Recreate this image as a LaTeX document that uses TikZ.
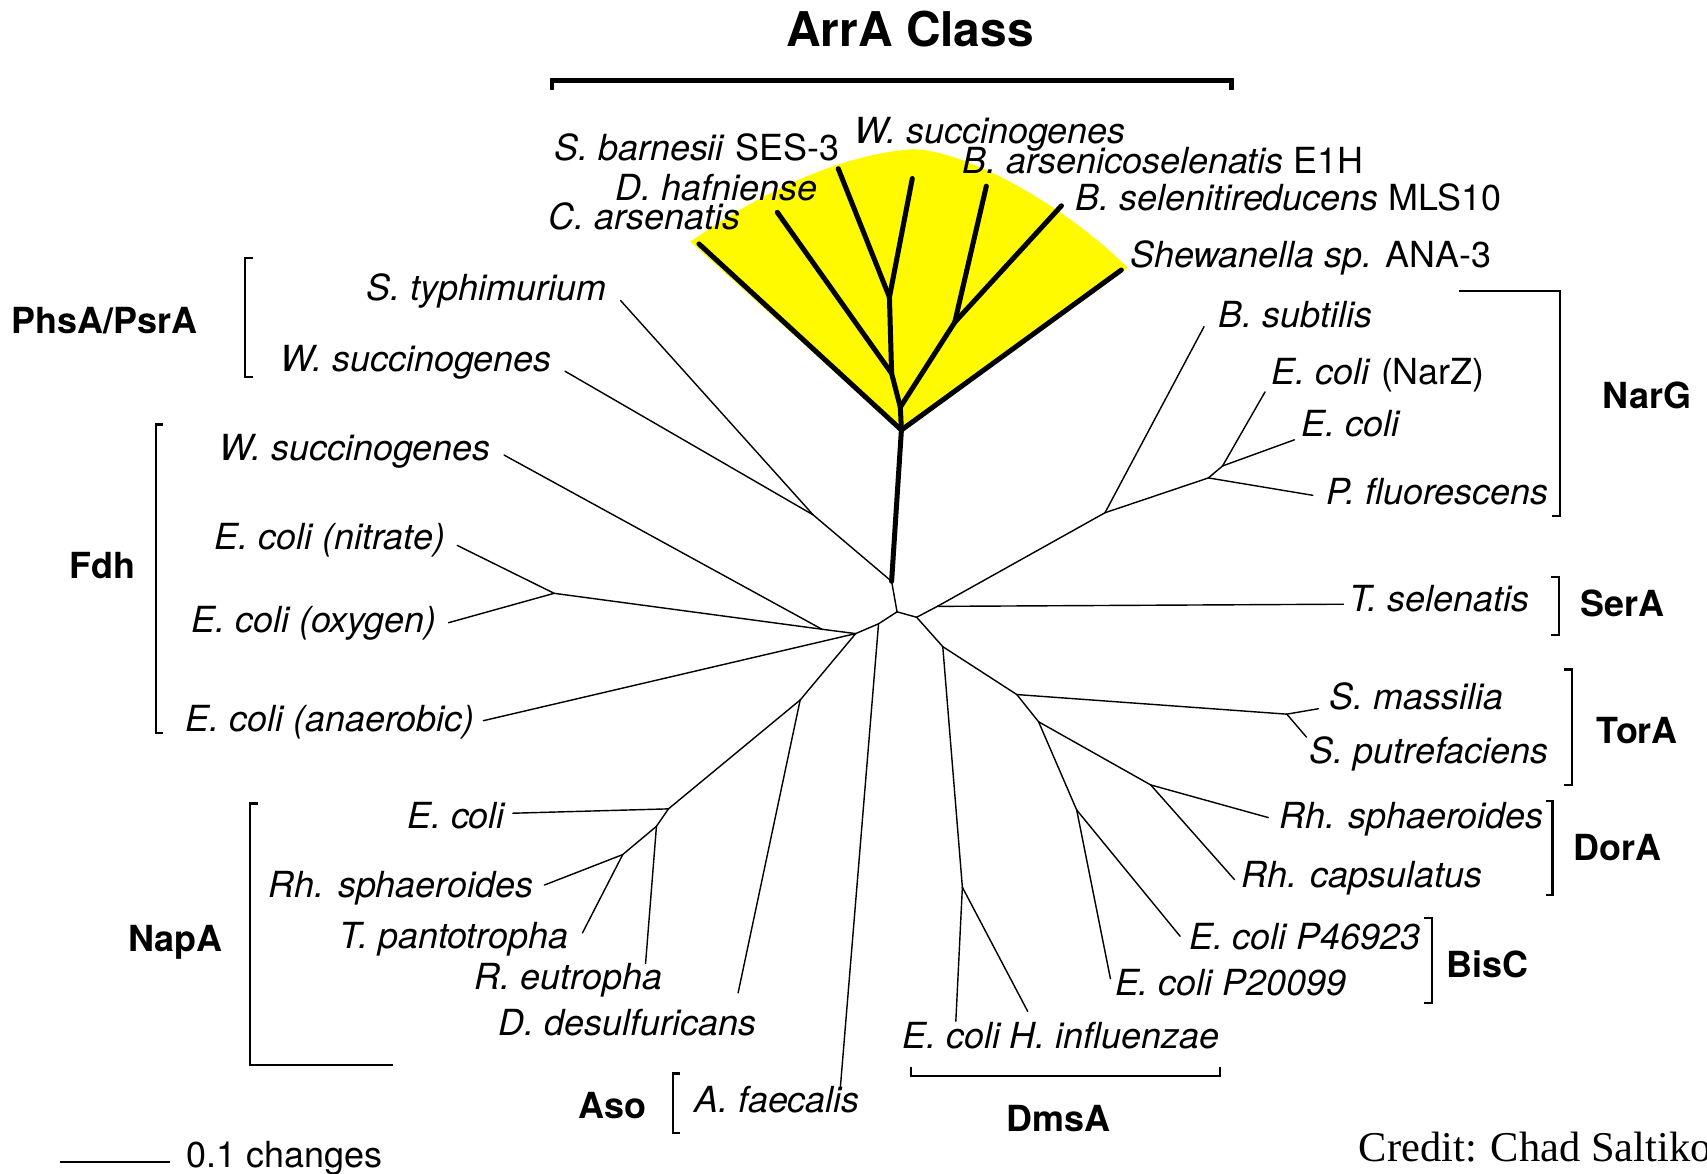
\documentclass[tikz,border=0pt]{standalone}
\usepackage{fontspec}
\setmainfont{TeX Gyre Heros}
\newfontfamily\creditfont{Liberation Serif}
\usetikzlibrary{positioning}
\definecolor{arryellow}{RGB}{255,250,0}
\tikzset{
 branch/.style={line width=1.3pt,line cap=round,line join=round},
 arrbranch/.style={line width=4.6pt,line cap=round,line join=round},
 groupbar/.style={line width=2pt},
 leaf/.style={inner sep=0pt,font=\fontsize{33}{36}\selectfont\itshape},
 family/.style={inner sep=0pt,anchor=base,font=\fontsize{33}{36}\selectfont\bfseries},
}
\begin{document}
\begin{tikzpicture}[x=1pt,y=-1pt]
\useasboundingbox (0,0) rectangle (1568,1078);
\fill[arryellow] (634,222) .. controls (680,190) and (760,142) .. (840,137)
 .. controls (895,140) and (985,195) .. (1036,246) -- (828,397) -- cycle;
% branch points
\foreach \n/\x/\y in {aR/828/395,aX/827/374,a1/817/273,a2/819/343,a3/877/296,
 nB/819/534,p1/747/473,nC/824/562,nA/807/573,nL/786/582,f1/755/578,f2/509/545,
 n0/735/643,n1/614/743,n2/603/759,n3/572/785,
 nR/842/567,t1/861/557,g0/1015/471,g1/1110/439,g2/1123/428,
 m0/866/594,m1/884/815,t0/934/638,o1/1182/656,d1/954/663,d2/1057/721,b1/989/744}
 \coordinate (\n) at (\x,\y);
% leaf tips
\foreach \n/\x/\y in {cars/642/224,dhaf/714/195,sbar/770/155,wsa/838/164,bars/906/171,bsel/975/189,shew/1030/248,
 styph/570/276,wsp/519/341,wsf/463/418,ecn/420/501,eco/412/572,eca/444/662,
 ecn2/471/747,rsn/500/813,tpan/535/857,reut/593/885,ddes/678/912,afae/772/998,
 ecd/878/938,hinf/944/929,bsub/1106/300,ecz/1162/360,ecg/1189/404,pflu/1206/455,tsel/1234/555,
 smas/1211/651,sput/1200/677,rsph/1165/751,rcap/1134/808,ec46/1084/860,ec20/1020/899}
 \coordinate (tip-\n) at (\x,\y);
% ArrA class
\foreach \a/\b in {tip-cars/aR,tip-dhaf/a2,tip-sbar/a1,tip-wsa/a1,a1/a2,a2/aX,
 tip-bars/a3,tip-bsel/a3,a3/aX,aX/aR,tip-shew/aR,aR/nB}
 \draw[arrbranch] (\a) -- (\b);
% rest of the tree
\foreach \a/\b in {tip-styph/p1,tip-wsp/p1,p1/nB,nB/nC,nC/nR,nC/nA,nA/nL,
 tip-wsf/f1,tip-ecn/f2,tip-eco/f2,f2/f1,f1/nL,tip-eca/nL,nA/tip-afae,
 nL/n0,n0/tip-ddes,n0/n1,n1/tip-ecn2,n1/n2,n2/tip-reut,n2/n3,n3/tip-rsn,n3/tip-tpan,
 nR/t1,t1/tip-tsel,t1/g0,g0/tip-bsub,g0/g1,g1/tip-pflu,g1/g2,g2/tip-ecz,g2/tip-ecg,
 nR/m0,m0/m1,m1/tip-ecd,m1/tip-hinf,m0/t0,t0/o1,o1/tip-smas,o1/tip-sput,
 t0/d1,d1/d2,d2/tip-rsph,d2/tip-rcap,d1/b1,b1/tip-ec46,b1/tip-ec20}
 \draw[branch] (\a) -- (\b);
% leaf labels
\foreach \n/\x/\y/\a/\t in {cars/680/211/base east/C. arsenatis,
 dhaf/751/184/base east/D. hafniense,
 sbar/771/147/base east/S. barnesii \textup{SES-3},
 wsa/785/132/base west/W. succinogenes,
 bars/884/159/base west/B. arsenicoselenatis \textup{E1H},
 bsel/988/193/base west/B. selenitireducens \textup{MLS10},
 shew/1038/246/base west/Shewanella sp. \textup{ANA-3},
 styph/557/276/base east/S. typhimurium,
 wsp/507/341/base east/W. succinogenes,
 wsf/451/423/base east/W. succinogenes,
 ecn/409/505/base east/E. coli (nitrate),
 eco/401/581/base east/E. coli (oxygen),
 eca/436/672/base east/E. coli (anaerobic),
 ecn2/464/761/base east/E. coli,
 rsn/490/824/base east/Rh. sphaeroides,
 tpan/522/871/base east/T. pantotropha,
 reut/436/909/base west/R. eutropha,
 ddes/458/951/base west/D. desulfuricans,
 afae/638/1022/base west/A. faecalis,
 ecd/829/963/base west/E. coli,
 hinf/927/963/base west/H. influenzae,
 bsub/1119/301/base west/B. subtilis,
 ecz/1168/353/base west/E. coli \textup{(NarZ)},
 ecg/1195/401/base west/E. coli,
 pflu/1218/463/base west/P. fluorescens,
 tsel/1239/562/base west/T. selenatis,
 smas/1221/652/base west/S. massilia,
 sput/1203/701/base west/S. putrefaciens,
 rsph/1175/761/base west/Rh. sphaeroides,
 rcap/1140/815/base west/Rh. capsulatus,
 ec46/1092/872/base west/E. coli P46923,
 ec20/1024/914/base west/E. coli P20099}
 \node[leaf,anchor=\a] (\n) at (\x,\y) {\t};
% enzyme families
\node[family,font=\fontsize{44}{48}\selectfont\bfseries] (arra) at (836,43) {ArrA Class};
\foreach \n/\x/\y/\t in {phsa/96/306/{PhsA/PsrA},fdh/94/531/Fdh,napa/161/874/NapA,aso/563/1027/Aso,
 dmsa/972/1039/DmsA,bisc/1366/898/BisC,dora/1486/790/DorA,tora/1504/683/TorA,
 sera/1490/566/SerA,narg/1513/375/NarG}
 \node[family] (\n) at (\x,\y) {\t};
\draw[groupbar,line width=4.5pt] (507,83) -- (507,74) -- (1131,74) -- (1131,83);
\draw[groupbar] (232,237) -- (225,237) -- (225,346) -- (232,346);
\draw[groupbar] (150,390) -- (143,390) -- (143,673) -- (150,673);
\draw[groupbar] (237,738) -- (230,738) -- (230,978) -- (361,978);
\draw[groupbar] (625,986) -- (618,986) -- (618,1041) -- (625,1041);
\draw[groupbar] (1340,267) -- (1433,267) -- (1433,474) -- (1426,474);
\draw[groupbar] (1425,530) -- (1432,530) -- (1432,583) -- (1425,583);
\draw[groupbar] (1437,615) -- (1444,615) -- (1444,721) -- (1437,721);
\draw[groupbar] (1420,736) -- (1426,736) -- (1426,822) -- (1420,822);
\draw[groupbar] (1308,843) -- (1315,843) -- (1315,921) -- (1308,921);
\draw[groupbar] (837,980) -- (837,988) -- (1121,988) -- (1121,980);
% scale and credit
\draw[groupbar] (55,1067) -- (156,1067);
\node[inner sep=0pt,anchor=base west,font=\fontsize{33}{36}\selectfont] (scale) at (171,1072) {0.1 changes};
\node[inner sep=0pt,anchor=base west,font=\creditfont\fontsize{39}{44}\selectfont] (credit) at (1248,1067) {Credit: Chad Saltiko};
\end{tikzpicture}
\end{document}
